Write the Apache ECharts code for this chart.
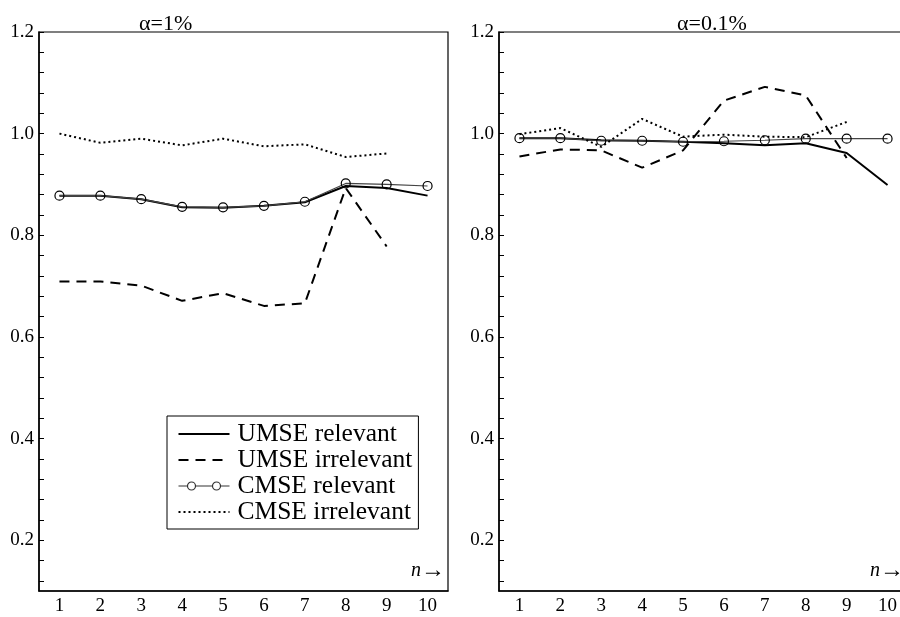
<!DOCTYPE html>
<html>
<head>
<meta charset="utf-8">
<script src="https://cdn.jsdelivr.net/npm/echarts@6/dist/echarts.min.js"></script>
<style>
html, body { margin: 0; padding: 0; background: #fff; }
#chart { width: 900px; height: 617px; }
</style>
</head>
<body>
<div id="chart"></div>
<script>
var byId = function(id){
	return document.getElementById(id);
};

// x axis: n
var xCategories = ['1','2','3','4','5','6','7','8','9','10'];
var yTickLabels = [0.2, 0.4, 0.6, 0.8, 1.0, 1.2];
var panelTitles = ['\u03b1=1%', '\u03b1=0.1%'];
var seriesNames = ['UMSE relevant', 'UMSE irrelevant', 'CMSE relevant', 'CMSE irrelevant'];

// α=1%
var umseRel1   = [0.878, 0.878, 0.871, 0.855, 0.854, 0.858, 0.865, 0.897, 0.893, 0.878];
var umseIrr1   = [0.709, 0.709, 0.701, 0.671, 0.686, 0.661, 0.666, 0.893, 0.778];
var cmseRel1   = [0.878, 0.878, 0.871, 0.856, 0.855, 0.858, 0.866, 0.902, 0.900, 0.897];
var cmseIrr1   = [1.000, 0.982, 0.990, 0.977, 0.990, 0.975, 0.979, 0.954, 0.961];

// α=0.1%
var umseRel2   = [0.991, 0.991, 0.987, 0.986, 0.984, 0.981, 0.977, 0.981, 0.962, 0.899];
var umseIrr2   = [0.955, 0.969, 0.967, 0.933, 0.967, 1.065, 1.092, 1.075, 0.952];
var cmseRel2   = [0.991, 0.991, 0.986, 0.986, 0.984, 0.985, 0.987, 0.990, 0.990, 0.990];
var cmseIrr2   = [0.999, 1.011, 0.974, 1.029, 0.994, 0.998, 0.994, 0.993, 1.023];

var serif = '"Liberation Serif", "DejaVu Serif", serif';

// 小刻度 0.12 ~ 1.2，每 0.04 一个
var minorTicks = [];
for (var i = 3; i <= 30; i++) {
	minorTicks.push(+(i * 0.04).toFixed(2));
}

function makeX(gridIndex){
	return {
		type: 'category',
		gridIndex: gridIndex,
		data: xCategories,
		boundaryGap: true,
		axisLine: { lineStyle: { color: '#000', width: 1.5 } },
		axisTick: { inside: true, alignWithLabel: true, length: 7, lineStyle: { color: '#000', width: 1.2 } },
		axisLabel: { color: '#000', fontFamily: serif, fontSize: 19, margin: 6 },
		splitLine: { show: false }
	};
}

function makeY(gridIndex){
	return {
		type: 'value',
		gridIndex: gridIndex,
		min: 0.1,
		max: 1.2,
		axisLine: { show: true, lineStyle: { color: '#000', width: 1.5 } },
		axisTick: { show: true, inside: true, length: 5, customValues: minorTicks, lineStyle: { color: '#000', width: 1 } },
		axisLabel: {
			color: '#000', fontFamily: serif, fontSize: 19, margin: 5,
			customValues: yTickLabels,
			formatter: function(v){ return v.toFixed(1); }
		},
		splitLine: { show: false }
	};
}

function makeSeries(idx, umseRel, umseIrr, cmseRel, cmseIrr){
	return [{
		name: seriesNames[0], type: 'line', xAxisIndex: idx, yAxisIndex: idx,
		data: umseRel, symbol: 'none',
		lineStyle: { color: '#000', width: 2 }, itemStyle: { color: '#000' }
	}, {
		name: seriesNames[1], type: 'line', xAxisIndex: idx, yAxisIndex: idx,
		data: umseIrr, symbol: 'none',
		lineStyle: { color: '#000', width: 2, type: [10, 7] }, itemStyle: { color: '#000' }
	}, {
		name: seriesNames[2], type: 'line', xAxisIndex: idx, yAxisIndex: idx,
		data: cmseRel, symbol: 'circle', symbolSize: 9, showSymbol: true,
		lineStyle: { color: '#444', width: 1.2 },
		itemStyle: { color: 'rgba(255,255,255,0)', borderColor: '#000', borderWidth: 1.2 }
	}, {
		name: seriesNames[3], type: 'line', xAxisIndex: idx, yAxisIndex: idx,
		data: cmseIrr, symbol: 'none',
		lineStyle: { color: '#000', width: 2, type: [2, 3] }, itemStyle: { color: '#000' }
	}];
}

var hideSymbol = { color: 'rgba(0,0,0,0)', borderWidth: 0, opacity: 0 };
var nArrow = {
	text: '{i|n}{a|\u2192}', fill: '#000',
	rich: {
		i: { fontStyle: 'italic', fontFamily: serif, fontSize: 20, fill: '#000' },
		a: { fontFamily: serif, fontSize: 24, fill: '#000' }
	}
};

var chartOption = {
	animation: false,
	backgroundColor: '#fff',
	grid: [
		{ left: 39, top: 32, width: 409, height: 559, outerBoundsMode: 'none', show: true, borderColor: '#000', borderWidth: 1.2, backgroundColor: 'transparent' },
		{ left: 499, top: 32, width: 409, height: 559, outerBoundsMode: 'none', show: true, borderColor: '#000', borderWidth: 1.2, backgroundColor: 'transparent' }
	],
	legend: {
		data: [
			{ name: seriesNames[0], itemStyle: hideSymbol },
			{ name: seriesNames[1], itemStyle: hideSymbol },
			{ name: seriesNames[2], icon: 'path://M0,7L9,7M17,7L34,7M42,7L51,7M9,7A4,4 0 1 1 17,7A4,4 0 1 1 9,7M34,7A4,4 0 1 1 42,7A4,4 0 1 1 34,7',
				itemStyle: { color: 'none', borderColor: '#333', borderWidth: 1.2 } },
			{ name: seriesNames[3], itemStyle: hideSymbol }
		],
		orient: 'vertical',
		left: 167,
		top: 416,
		backgroundColor: '#fff',
		borderColor: '#000',
		borderWidth: 1,
		borderRadius: 0,
		padding: [5, 6, 4, 9],
		itemWidth: 51,
		itemHeight: 14,
		itemGap: 0,
		textStyle: { color: '#000', fontFamily: serif, fontSize: 25.5, lineHeight: 24, padding: [0, 0, 0, 3] }
	},
	xAxis: [makeX(0), makeX(1)],
	yAxis: [makeY(0), makeY(1)],
	graphic: [
		{ type: 'text', left: 139, top: 13, style: { text: panelTitles[0], fill: '#000', font: '22px ' + serif } },
		{ type: 'text', left: 677, top: 13, style: { text: panelTitles[1], fill: '#000', font: '22px ' + serif } },
		{ type: 'text', left: 411, top: 559, style: nArrow },
		{ type: 'text', left: 870, top: 559, style: nArrow }
	],
	series: makeSeries(0, umseRel1, umseIrr1, cmseRel1, cmseIrr1)
		.concat(makeSeries(1, umseRel2, umseIrr2, cmseRel2, cmseIrr2))
};

var lineChart = echarts.init(byId('chart'));
lineChart.setOption(chartOption);
</script>
</body>
</html>
